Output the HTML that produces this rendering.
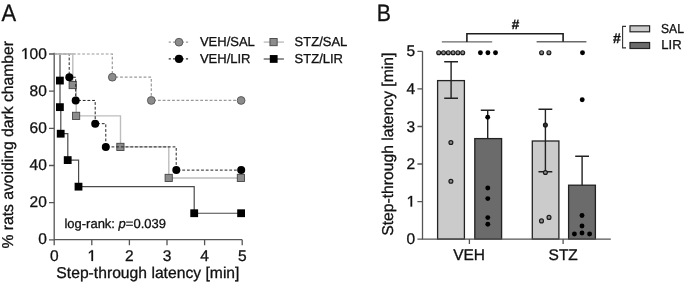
<!DOCTYPE html>
<html><head><meta charset="utf-8"><style>
html,body{margin:0;padding:0;background:#fff;}
svg{display:block;will-change:transform;}
text{font-family:"Liberation Sans",sans-serif;fill:#111;stroke:#111;stroke-width:0.3px;text-rendering:geometricPrecision;}
</style></head><body>
<svg width="685" height="284" viewBox="0 0 685 284">
<rect width="685" height="284" fill="#fff"/>
<!-- ============ PANEL A ============ -->
<text transform="translate(1.4,20.6) scale(0.93,1)" font-size="23.6">A</text>
<!-- y label -->
<text transform="translate(12.7,144.75) rotate(-90)" text-anchor="middle" font-size="15.7">% rats avoiding dark chamber</text>
<!-- axes -->
<g stroke="#555" stroke-width="1.3" fill="none">
<path d="M54.2,52.8 V245.2"/>
<path d="M54.2,239.7 H242.2"/>
<path d="M49,54.0 H54.2 M49,91.16 H54.2 M49,128.32 H54.2 M49,165.48 H54.2 M49,202.64 H54.2 M49,239.8 H54.2"/>
<path d="M91.8,239.7 V245.2 M129.4,239.7 V245.2 M167,239.7 V245.2 M204.6,239.7 V245.2 M242.2,239.7 V245.2"/>
</g>
<g font-size="15.5" text-anchor="end">
<text transform="translate(46.8,58.9)">00</text>
<path fill="#111" stroke="#111" stroke-width="39.6" transform="translate(20.94,58.9) scale(0.007568,-0.007568)" d="M530,0 L530,1215 L190,965 L190,1150 L545,1409 L728,1409 L728,0 Z"/>
<text transform="translate(46.8,96.0)">80</text>
<text transform="translate(46.8,133.1)">60</text>
<text transform="translate(46.8,170.2)">40</text>
<text transform="translate(46.8,207.3)">20</text>
<text transform="translate(46.8,244.4)">0</text>
</g>
<g font-size="15.5" text-anchor="middle">
<text transform="translate(54.2,260.9)">0</text>
<path fill="#111" stroke="#111" stroke-width="39.6" transform="translate(87.49,260.9) scale(0.007568,-0.007568)" d="M530,0 L530,1215 L190,965 L190,1150 L545,1409 L728,1409 L728,0 Z"/>
<text transform="translate(129.4,260.9)">2</text>
<text transform="translate(167,260.9)">3</text>
<text transform="translate(204.6,260.9)">4</text>
<text transform="translate(242.2,260.9)">5</text>
</g>
<text transform="translate(147.9,278.4)" font-size="15.7" text-anchor="middle">Step-through latency [min]</text>
<text x="64.4" y="227.5" font-size="13">log-rank: <tspan font-style="italic">p</tspan>=0.039</text>

<!-- curves -->
<!-- STZ/LIR black solid -->
<path d="M54,54 H60 V107.14 H60.8 V133.71 H67.8 V160.09 H78.6 V186.66 H194.2 V213.23 H241" fill="none" stroke="#4a4a4a" stroke-width="1.2"/>
<g fill="#000">
<rect x="56.00" y="76.67" width="7.80" height="7.80"/>
<rect x="56.00" y="103.24" width="7.80" height="7.80"/>
<rect x="56.80" y="129.81" width="7.80" height="7.80"/>
<rect x="63.80" y="156.19" width="7.80" height="7.80"/>
<rect x="74.60" y="182.76" width="7.80" height="7.80"/>
<rect x="190.30" y="209.33" width="7.80" height="7.80"/>
<rect x="237.20" y="209.33" width="7.80" height="7.80"/>
</g>
<!-- STZ/SAL gray solid -->
<path d="M54,54 H72.8 V85.03 H76.2 V115.87 H120.5 V146.9 H168.8 V177.93 H241" fill="none" stroke="#bdbdbd" stroke-width="1.4"/>
<g fill="#8c8c8c" stroke="#444" stroke-width="0.9">
<rect x="69.10" y="81.43" width="7.20" height="7.20"/>
<rect x="72.50" y="112.27" width="7.20" height="7.20"/>
<rect x="116.80" y="143.30" width="7.20" height="7.20"/>
<rect x="165.10" y="174.33" width="7.20" height="7.20"/>
<rect x="237.30" y="174.33" width="7.20" height="7.20"/>
</g>
<!-- VEH/LIR black dashed -->
<path d="M54,54 H69.2 V77.22 H75.7 V100.45 H95.2 V123.68 H105.8 V146.9 H176.2 V170.12 H241" fill="none" stroke="#222" stroke-width="1" stroke-dasharray="2.8,1.9"/>
<g fill="#000">
<circle cx="69.3" cy="77.22" r="4"/>
<circle cx="75.7" cy="100.45" r="4"/>
<circle cx="95.2" cy="123.68" r="4"/>
<circle cx="105.8" cy="146.9" r="4"/>
<circle cx="176.3" cy="170.12" r="4"/>
<circle cx="241.2" cy="170.12" r="4"/>
</g>
<!-- VEH/SAL gray dashed -->
<path d="M54,54 H112.3 V77.22 H151.3 V100.45 H241" fill="none" stroke="#999" stroke-width="1.2" stroke-dasharray="2.8,1.9"/>
<g fill="#8c8c8c" stroke="#555" stroke-width="0.9">
<circle cx="112.3" cy="77.22" r="3.9"/>
<circle cx="151.3" cy="100.45" r="3.9"/>
<circle cx="241.1" cy="100.45" r="3.9"/>
</g>

<path d="M55,54 H75.5" stroke="#c2c2c2" stroke-width="1.5" fill="none"/>
<!-- legend A -->
<path d="M168.7,42.2 H189.3" stroke="#999" stroke-width="1.2" stroke-dasharray="2.2,2.1" fill="none"/>
<circle cx="179" cy="42.2" r="3.9" fill="#8c8c8c" stroke="#555" stroke-width="0.9"/>
<path d="M168.7,58.9 H189.3" stroke="#333" stroke-width="1.1" stroke-dasharray="2.2,2.1" fill="none"/>
<circle cx="179" cy="58.9" r="4.1" fill="#000"/>
<path d="M263.7,42.1 H283.9" stroke="#bdbdbd" stroke-width="1.4" fill="none"/>
<rect x="269.95" y="38.5" width="7.2" height="7.2" fill="#8c8c8c" stroke="#444" stroke-width="0.9"/>
<path d="M263.7,59 H283.9" stroke="#4a4a4a" stroke-width="1.2" fill="none"/>
<rect x="269.8" y="55.05" width="7.8" height="7.8" fill="#000"/>
<g font-size="13">
<text transform="translate(199.9,46.2)">VEH/SAL</text>
<text transform="translate(199.9,63.3)">VEH/LIR</text>
<text transform="translate(294.6,46.2)">STZ/SAL</text>
<text transform="translate(294.6,63.3)">STZ/LIR</text>
</g>

<!-- ============ PANEL B ============ -->
<text transform="translate(376.8,20.9) scale(0.9,1)" font-size="23.6">B</text>
<text transform="translate(392.6,144.2) rotate(-90)" text-anchor="middle" font-size="15.7">Step-through latency [min]</text>
<!-- bars -->
<g stroke="#222" stroke-width="1.3">
<rect x="437.6" y="80.6" width="26.8" height="158.5" fill="#cbcbcb"/>
<rect x="474.8" y="138.6" width="26.8" height="100.5" fill="#6b6b6b"/>
<rect x="532.3" y="141" width="26.6" height="98.1" fill="#cbcbcb"/>
<rect x="568.6" y="185.2" width="26.8" height="53.9" fill="#6b6b6b"/>
</g>
<!-- error bars -->
<g stroke="#222" stroke-width="1.4" fill="none">
<path d="M451.1,61.7 V98.3 M444.2,61.7 H458 M444.2,98.3 H458"/>
<path d="M487.7,110.3 V138.6 M480.8,110.3 H494.6"/>
<path d="M545.4,109.2 V171.8 M538.5,109.2 H552.3 M538.5,171.8 H552.3"/>
<path d="M582.1,156.2 V185.2 M575.2,156.2 H589"/>
</g>
<!-- axes B -->
<g stroke="#555" stroke-width="1.3" fill="none">
<path d="M422.5,51.3 V239.2 H610.8"/>
<path d="M417.4,51.3 H422.5 M417.4,88.9 H422.5 M417.4,126.5 H422.5 M417.4,164 H422.5 M417.4,201.6 H422.5 M417.4,239.2 H422.5"/>
<path d="M469.4,239.1 V244 M563.1,239.1 V244"/>
</g>
<g font-size="15.5" text-anchor="end">
<text transform="translate(415.2,56.3)">5</text>
<text transform="translate(415.2,93.9)">4</text>
<text transform="translate(415.2,131.5)">3</text>
<text transform="translate(415.2,169.0)">2</text>
<path fill="#111" stroke="#111" stroke-width="39.6" transform="translate(406.58,206.6) scale(0.007568,-0.007568)" d="M530,0 L530,1215 L190,965 L190,1150 L545,1409 L728,1409 L728,0 Z"/>
<text transform="translate(415.2,244.2)">0</text>
</g>
<g font-size="15.5" text-anchor="middle">
<text transform="translate(469.1,259.9)">VEH</text>
<text transform="translate(563.2,260.1)">STZ</text>
</g>
<!-- dots -->
<g fill="#8f8f8f" stroke="#1a1a1a" stroke-width="1.2">
<circle cx="438.7" cy="52.7" r="1.95"/>
<circle cx="443.5" cy="52.7" r="1.95"/>
<circle cx="448.3" cy="52.7" r="1.95"/>
<circle cx="453.1" cy="52.7" r="1.95"/>
<circle cx="457.9" cy="52.7" r="1.95"/>
<circle cx="462.7" cy="52.7" r="1.95"/>
<circle cx="450.9" cy="142.5" r="1.95"/>
<circle cx="450.9" cy="181.3" r="1.95"/>
<circle cx="541.6" cy="52.7" r="1.95"/>
<circle cx="548.9" cy="52.7" r="1.95"/>
<circle cx="545.4" cy="125" r="1.95" fill="#333"/>
<circle cx="545.4" cy="172.5" r="1.95"/>
<circle cx="541.5" cy="220.9" r="1.95"/>
<circle cx="549" cy="217.4" r="1.95"/>
</g>
<g fill="#000">
<circle cx="480.4" cy="52.7" r="2.45"/>
<circle cx="487.9" cy="52.7" r="2.45"/>
<circle cx="495.5" cy="52.7" r="2.45"/>
<circle cx="487.7" cy="117.2" r="2.45"/>
<circle cx="487.8" cy="188" r="2.45"/>
<circle cx="487.8" cy="198.6" r="2.45"/>
<circle cx="487.8" cy="217.6" r="2.45"/>
<circle cx="487.8" cy="224.3" r="2.45"/>
<circle cx="582.5" cy="52.7" r="2.45"/>
<circle cx="582.2" cy="99.8" r="2.45"/>
<circle cx="582" cy="215.5" r="2.45"/>
<circle cx="582" cy="226" r="2.45"/>
<circle cx="574.4" cy="234" r="2.45"/>
<circle cx="582" cy="233" r="2.45"/>
<circle cx="589.6" cy="234" r="2.45"/>
</g>
<!-- significance bracket -->
<g stroke="#6a6a6a" stroke-width="1.4" fill="none">
<path d="M441.8,41.9 H492.2 M536.6,41.7 H586.4"/>
</g>
<path d="M466.9,41.9 V33.7 H563.1 V41.7" stroke="#1e1e1e" stroke-width="1.6" fill="none"/>
<text x="515.6" y="29.4" font-size="13.5" text-anchor="middle" font-weight="bold">#</text>
<!-- legend B -->
<rect x="630" y="25.8" width="19.6" height="6" fill="#cbcbcb" stroke="#222" stroke-width="1.2"/>
<rect x="630" y="42.5" width="19.6" height="6" fill="#6b6b6b" stroke="#222" stroke-width="1.2"/>
<path d="M626,26.4 H622.6 V47.9 H626" stroke="#333" stroke-width="1.1" fill="none"/>
<text x="617" y="42.5" font-size="14" text-anchor="middle" font-weight="bold">#</text>
<g font-size="13">
<text transform="translate(661,32.6) scale(0.93,1)">SAL</text>
<text x="661.3" y="49.3">LIR</text>
</g>
</svg>
</body></html>
